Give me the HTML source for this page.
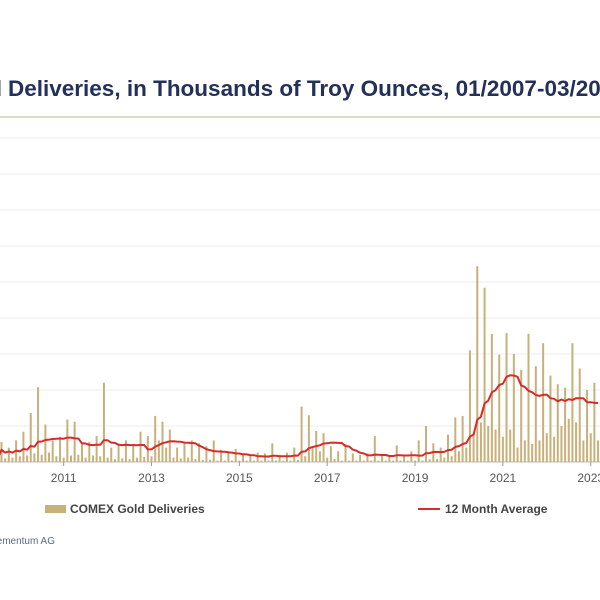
<!DOCTYPE html>
<html><head><meta charset="utf-8"><style>
html,body{margin:0;padding:0;background:#fff;}
svg{display:block;font-family:"Liberation Sans",Arial,sans-serif;}
</style></head><body>
<svg id="chart" width="600" height="600" viewBox="0 0 600 600">
<text x="8" y="96" font-size="22.5" font-weight="bold" fill="#23305a">Deliveries, in Thousands of Troy Ounces, 01/2007-03/2023</text>
<text x="2" y="96" font-size="22.5" font-weight="bold" fill="#23305a" text-anchor="end">COMEX Gold</text>
<line x1="0" y1="117" x2="600" y2="117" stroke="#ddd8c8" stroke-width="2"/>
<g id="grid"></g><g id="bars"></g><g id="avg"></g><g id="xaxis"></g>
<g>
<rect x="45" y="505" width="21" height="8" fill="#c8b07a"/>
<text x="70" y="513" font-size="12" font-weight="bold" fill="#444">COMEX Gold Deliveries</text>
<line x1="418" y1="509" x2="440" y2="509" stroke="#d62b2b" stroke-width="2"/>
<text x="445" y="513" font-size="12" font-weight="bold" fill="#444">12 Month Average</text>
</g>
<text x="55" y="544" font-size="10" fill="#5a6a8a" text-anchor="end">Source: Incrementum AG</text>
</svg>
<script>
// Start month index (months since Jan 2007) of first value: Jul 2009
const startMonth = 30;
const deliveries = [
60,280,50,200,60,300,
80,420,90,680,120,1040,100,520,130,300,80,350,
60,590,90,560,100,250,60,280,90,360,80,1100,
60,200,40,240,50,300,40,250,60,420,70,360,
80,640,300,560,200,450,60,200,50,260,60,300,
40,260,30,220,30,300,20,170,20,150,20,180,
20,120,20,100,20,130,20,120,20,260,20,100,
20,130,20,200,30,770,80,650,200,430,150,400,
60,220,40,150,20,250,20,120,20,100,20,120,
20,360,20,100,20,80,20,230,20,80,20,150,
20,300,20,500,40,260,40,200,60,380,80,620,
150,640,200,1550,400,2720,550,2420,500,1780,450,1490,
350,1790,450,1500,200,1280,300,1780,250,1330,300,1650,
400,1200,350,1080,500,1030,600,1650,550,1300,300,1000,
400,1100,300
];
const yearTicks = [2011,2013,2015,2017,2019,2021,2023];
const gridValues = [0,500,1000,1500,2000,2500,3000,3500,4000,4500];

const NS = "http://www.w3.org/2000/svg";
const baseY = 462, pxPerUnit = 36/500;
const xScale = m => -112 + 3.66*m;
const yScale = v => baseY - v*pxPerUnit;
function mk(tag, attrs, parent){const e=document.createElementNS(NS,tag);for(const k in attrs)e.setAttribute(k,attrs[k]);parent.appendChild(e);return e;}

const grid=document.getElementById('grid');
gridValues.forEach(v=>{
  const l=mk('line',{x1:0,x2:600,y1:yScale(v),y2:yScale(v),stroke:v===0?'#bbb':'#ececec','stroke-width':1},grid);
  
  
});
const bars=document.getElementById('bars');
deliveries.forEach((v,i)=>{
  const x=xScale(startMonth+i);
  const r=mk('rect',{x:x-1,y:yScale(v),width:2,height:baseY-yScale(v),fill:'#c8b07a'},bars);
  
  
});
// 12-month trailing average derived from the delivery values
const pts=deliveries.map((v,i)=>{
  const s=deliveries.slice(Math.max(0,i-11),i+1);
  const a=s.reduce((p,c)=>p+c,0)/s.length;
  return xScale(startMonth+i).toFixed(1)+','+yScale(a).toFixed(1);
});
const pl=mk('polyline',{points:pts.join(' '),fill:'none',stroke:'#d62b2b','stroke-width':2,'stroke-linejoin':'round'},document.getElementById('avg'));


const xa=document.getElementById('xaxis');
yearTicks.forEach(y=>{
  const x=xScale((y-2007)*12);
  const t=mk('line',{x1:x,x2:x,y1:baseY,y2:baseY+4,stroke:'#999'},xa);
  
  
  const tx=mk('text',{x:x,y:482,'font-size':12,fill:'#555','text-anchor':'middle'},xa);
  tx.textContent=y;
  
  
});
</script>
</body></html>
